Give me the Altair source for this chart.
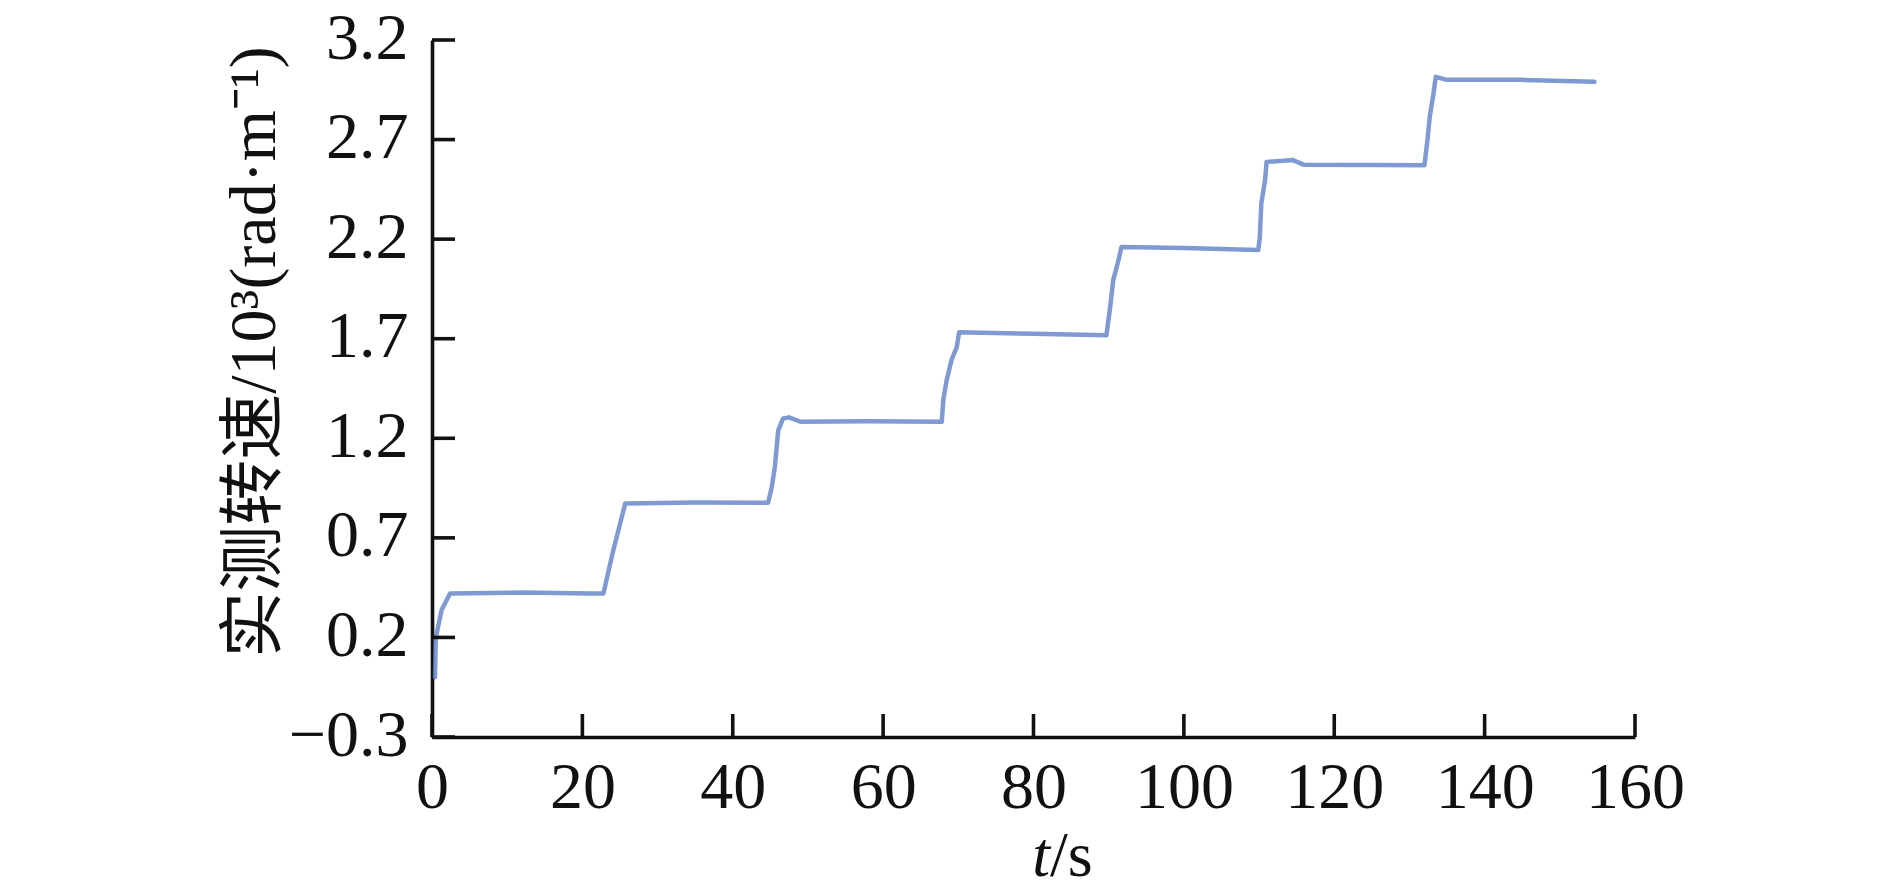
import altair as alt
import pandas as pd

time_s = [0.4, 0.5, 1.3, 2.4, 12.0, 21.0, 22.8,
          24.0, 25.7, 35.0, 44.7,
          45.2, 45.6, 46.05, 46.7, 47.5, 49.0, 58.0, 67.8,
          68.0, 68.45, 69.1, 69.8, 70.1, 80.0, 89.7,
          90.2, 90.6, 91.3, 91.7, 100.0, 109.9,
          110.1, 110.3, 110.8, 111.0, 114.5, 116.0, 125.0, 132.0,
          132.4, 132.7, 133.2, 133.5, 135.0, 145.0, 154.6]
speed = [0.00, 0.20, 0.34, 0.42, 0.425, 0.42, 0.421,
         0.62, 0.873, 0.878, 0.876,
         0.957, 1.057, 1.24, 1.30, 1.305, 1.283, 1.285, 1.283,
         1.392, 1.492, 1.593, 1.659, 1.732, 1.725, 1.718,
         1.86, 1.994, 2.094, 2.161, 2.155, 2.145,
         2.21, 2.38, 2.496, 2.588, 2.597, 2.573, 2.572, 2.571,
         2.699, 2.814, 2.931, 3.015, 3.0, 3.0, 2.99]

x_ticks = [0, 20, 40, 60, 80, 100, 120, 140, 160]
y_ticks = [-0.3, 0.2, 0.7, 1.2, 1.7, 2.2, 2.7, 3.2]

y_title = "实测转速/10³(rad·m⁻¹)"
x_title_italic = "t"
x_title_rest = "/s"

W, H = 1203, 697
TICK = 23
SERIF = "Liberation Serif, Noto Sans CJK SC"

xs = alt.Scale(domain=[0, 160], nice=False, zero=False)
ys = alt.Scale(domain=[-0.3, 3.2], nice=False, zero=False)

df = pd.DataFrame({"t": time_s, "v": speed})

line = alt.Chart(df).mark_line(color="#5f7fc5", strokeWidth=4.5, opacity=0.8,
                               strokeJoin="round", strokeCap="round").encode(
    x=alt.X("t:Q", scale=xs,
            axis=alt.Axis(values=x_ticks, format="d", title=None, ticks=False,
                          grid=False, labelPadding=18, labelFlush=False)),
    y=alt.Y("v:Q", scale=ys,
            axis=alt.Axis(values=y_ticks, format=".1f", title=None, ticks=False,
                          grid=False, labelPadding=24, labelFlush=False, labelOffset=-2)),
)

xt = alt.Chart(pd.DataFrame({"t": x_ticks})).mark_rule(color="#111111", strokeWidth=3.6).encode(
    x=alt.X("t:Q", scale=xs, title=None),
    y=alt.value(H), y2=alt.value(H - TICK),
)
yt = alt.Chart(pd.DataFrame({"v": y_ticks})).mark_rule(color="#111111", strokeWidth=3.6).encode(
    y=alt.Y("v:Q", scale=ys, title=None),
    x=alt.value(0), x2=alt.value(TICK),
)

one = pd.DataFrame({"k": [0]})
ytitle = alt.Chart(one).mark_text(text=y_title, font=SERIF, fontSize=66, angle=270,
                                  align="center", baseline="middle",
                                  color="#111111").encode(x=alt.value(-177), y=alt.value(312))
t_it = alt.Chart(one).mark_text(text=x_title_italic, font="Liberation Serif", fontStyle="italic",
                                fontSize=64, align="right", baseline="alphabetic",
                                color="#111111").encode(x=alt.value(618), y=alt.value(836))
t_rest = alt.Chart(one).mark_text(text=x_title_rest, font="Liberation Serif",
                                  fontSize=64, align="left", baseline="alphabetic",
                                  color="#111111").encode(x=alt.value(618), y=alt.value(836))

chart = alt.layer(line, xt, yt, ytitle, t_it, t_rest).properties(
    width=W, height=H,
    autosize=alt.AutoSizeParams(type="none"),
    padding={"left": 424, "top": 32, "right": 247, "bottom": 149},
).configure_view(stroke=None).configure_axis(
    domainColor="#111111", domainWidth=3.6,
    labelFont="Liberation Serif", labelFontSize=66, labelColor="#111111",
)

chart.save("out.html", embed_options={"renderer": "svg", "actions": False})
